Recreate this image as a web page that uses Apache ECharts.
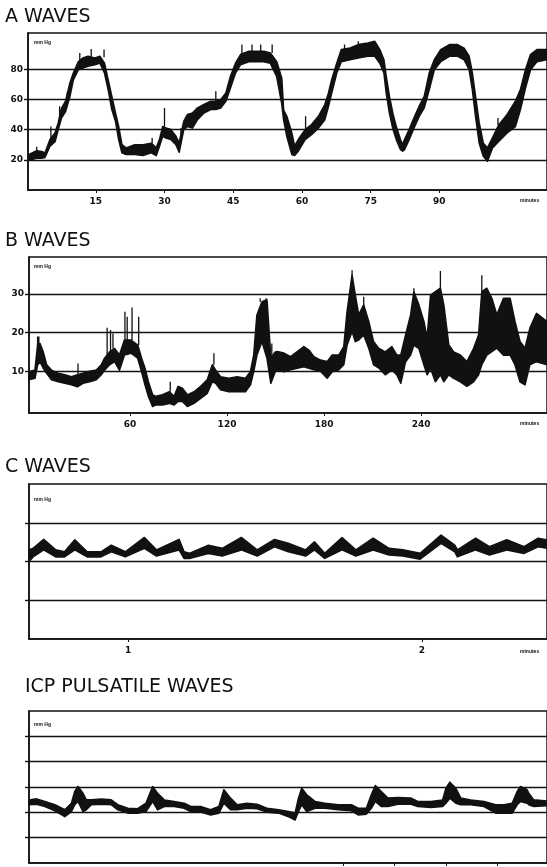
<!DOCTYPE html>
<html>
<head>
<meta charset="utf-8">
<title>ICP waves</title>
<script src="https://cdn.jsdelivr.net/npm/echarts@6/dist/echarts.min.js"></script>
<style>
html, body { margin: 0; padding: 0; background: #fff; }
#main { width: 547px; height: 867px; }
</style>
</head>
<body>
<div id="main"></div>
<script>
var ink = '#111';

// A waves (minutes / mm Hg): lower and upper edge of the trace
var aTime = [0.45,2.1,3.2,3.9,5.0,6.1,6.8,7.5,8.4,9.35,10.1,11.2,12.2,13.3,14.8,15.9,16.9,17.7,18.5,19.3,20.0,20.7,21.6,23.5,25.3,27.1,28.2,28.9,29.6,30.3,31.4,32.5,33.2,34.2,35.0,36.1,37.2,38.6,40.1,41.2,42.3,43.4,44.4,45.5,46.6,48.4,50.2,51.7,53.1,54.5,55.6,56.0,56.7,57.8,58.4,59.2,60.7,62.1,63.6,65.0,65.8,66.5,67.6,68.6,70.5,72.3,74.4,75.9,77.0,77.9,78.4,79.1,79.9,80.6,81.5,82.0,82.4,83.4,84.6,85.6,86.7,87.8,88.9,90.3,92.2,94.0,95.4,96.5,97.2,97.9,98.7,99.6,100.5,101.6,103.0,104.8,106.6,107.7,108.8,109.9,111.3,113.5];
var aLow = [19.7,21,21,21.5,29,32,40,47.7,52,62,73,79.7,80.8,82,83,84.1,77.5,66.5,53.3,45.5,33.4,24.6,23.5,23.5,22.8,24.6,22.8,29,35.6,34.5,33.4,30,25,40,42,41,46.6,51,53.3,53.3,54.4,58.8,67.6,77.5,83,85,85,85,84,75,57,46.6,35.6,23.5,22.8,25.7,33.4,36.7,41,46.6,55.5,64.3,77.5,85,86.3,87.5,88.6,88.6,84,77.5,64.3,51,40,33.4,26.8,25.7,26.8,33.4,42,48.8,54.4,66.5,79.7,85,88.6,88.6,86.3,79.7,66.5,48.8,31,22.4,19,27.9,32.3,37.8,42,53.3,67.6,79.7,85,86.3];
var aHigh = [23.5,26,25.5,24.5,33.4,37.8,44.4,54,58.8,70.9,77.5,85,87.5,88.6,87.5,88.6,84,73,62,51,42,30,27.9,30,30,31,27.9,33.4,42,41,40,35.6,31,45.5,50,51,54.4,56.6,58.8,58.8,60,64.3,75.3,84,89.7,91.9,91.9,91.9,90.8,85,74,53,48.8,37.8,29,33.4,40,43.3,48.8,56.6,64.3,73,84,93,94,96.3,97.4,98.5,93,86.3,75.3,62,50,42,33.4,30,33.4,40,48.8,55.5,62,77.5,86.3,93,96.3,96.3,94,88.6,77.5,62,44.4,31,27.9,34.5,43.3,50,58.8,66.5,79.7,89.7,93,93];
var aSpikeTime = [2.1,5.2,7.1,8.8,11.5,14.0,16.8,27.3,30.0,33.6,41.2,46.9,49.1,51.0,53.5,60.8,69.3,72.3,102.8];
var aSpikeBase = [25,33,44,58,84,88,88,31,41,31,58.8,90,91,91,90.8,40,93,96,43];
var aSpikeTop = [28.6,42,55.5,65,90.8,93.4,93,34.5,54.4,41,65.4,96.3,96.3,96.3,96.3,48.8,96.3,98.5,47.7];
var aTicks = [15,30,45,60,75,90];
var aLevels = [20,40,60,80];

// B waves
var bTime = [-2.4,1.3,2.9,4.4,6.4,8.5,11.5,15.6,19.7,23.8,27.5,31.0,35.1,39.2,42.3,44.3,47.4,50.5,53.5,56.6,60.7,64.8,67.2,69.3,71.4,74.0,76.1,80.1,84.3,87.3,89.8,92.4,95.5,99.6,103.7,107.8,110.9,113.0,116.0,121.1,126.2,131.4,134.5,136.5,138.5,141.6,144.7,147.1,149.8,151.0,155.2,159.3,163.4,167.5,170.6,173.7,177.8,181.9,185.0,189.1,192.2,194.2,197.3,199.3,201.4,204.5,207.6,210.6,213.7,217.8,221.9,225.0,227.4,230.4,233.5,235.5,238.6,241.7,243.7,245.8,248.8,251.9,254.0,257.1,260.1,264.2,268.3,272.4,275.5,277.5,280.6,283.7,286.8,290.9,295.0,298.0,301.1,304.2,307.2,311.3,317.8];
var bLow = [7.8,8.2,11.6,12.5,10.8,9.5,7.8,7.3,6.9,6.5,6.0,6.9,7.3,7.8,9.1,10.3,11.7,12.5,10.3,14.2,14.7,13.4,9.9,6.5,3.5,0.9,1.3,1.3,1.7,1.3,2.2,2.2,0.9,1.7,3.0,4.3,7.3,6.9,5.2,4.7,4.7,4.7,6.5,9.9,14.2,17.7,13.4,6.9,9.9,10.4,9.9,10.4,10.8,11.2,10.8,10.4,10.0,8.2,9.9,10.4,11.7,16.8,20.3,17.7,18.1,19.4,16.0,11.7,10.9,9.1,10.4,9.05,6.9,12.5,14.2,16.8,15.9,11.7,9.1,10.8,7.3,9.1,7.3,9.1,8.2,7.3,6.1,7.3,9.1,11.7,14.2,15.1,16.0,14.2,14.2,11.7,7.3,6.5,11.7,12.5,11.7];
var bHigh = [9.9,10.3,16.8,17.2,15.0,11.7,10.3,9.5,9.1,8.6,9.1,9.5,10.0,10.3,11.7,13.4,15.0,15.9,14.2,18.1,18.1,16.8,13.4,10.8,7.3,3.9,3.5,3.9,4.7,3.5,6.1,5.6,3.9,4.7,6.1,7.8,11.7,10.3,8.6,8.2,8.6,8.2,9.9,14.2,24.6,28.0,28.5,13.4,15.0,15.1,14.7,13.8,15.1,16.4,15.5,13.8,12.9,12.5,14.2,14.2,16.4,25.4,34.9,29.7,24.6,27.2,22.9,17.7,16.0,15.0,16.4,14.2,14.2,19.4,24.6,30.6,27.2,22.9,18.5,29.7,30.6,31.5,27.2,16.8,15.0,14.2,12.5,15.9,19.4,30.6,31.5,28.9,24.6,28.9,28.9,22.9,17.7,16.0,21.1,25.0,22.9];
var bSpikeTime = [2.9,3.7,27.9,45.9,48.0,49.5,56.9,58.3,61.3,65.4,84.9,111.9,140.5,144.2,147.7,197.3,204.5,235.5,251.9,277.5];
var bSpikeBase = [16.8,17,9.1,13.4,15,15.9,18.1,18.1,18.1,16.8,4.7,11.7,28,28.5,13.4,34.9,27.2,30.6,31.5,30.6];
var bSpikeTop = [19,19,12,21.3,20.7,19.8,25.4,24.1,26.5,24.1,7.3,14.7,28.9,28.9,17.2,36.2,29.3,31.5,36,34.9];
var bTicks = [60,120,180,240];
var bLevels = [10,20,30];

// C waves
var cTime = [0.662,0.676,0.712,0.753,0.783,0.818,0.860,0.907,0.942,0.990,1.055,1.096,1.173,1.190,1.208,1.273,1.320,1.385,1.439,1.498,1.545,1.604,1.634,1.669,1.728,1.775,1.834,1.888,1.935,1.994,2.065,2.112,2.121,2.183,2.230,2.289,2.348,2.396,2.426];
var cLow = [2.00,2.12,2.30,2.12,2.12,2.30,2.12,2.12,2.25,2.12,2.34,2.14,2.30,2.08,2.08,2.21,2.14,2.30,2.14,2.38,2.25,2.14,2.30,2.08,2.30,2.14,2.30,2.17,2.14,2.06,2.47,2.25,2.12,2.30,2.17,2.30,2.21,2.38,2.34];
var cHigh = [2.30,2.34,2.57,2.30,2.25,2.56,2.25,2.25,2.42,2.25,2.62,2.30,2.57,2.25,2.21,2.42,2.34,2.62,2.30,2.57,2.47,2.30,2.51,2.21,2.62,2.30,2.60,2.34,2.30,2.21,2.68,2.42,2.30,2.60,2.38,2.56,2.38,2.60,2.55];
var cTicks = [1,2];
var cLevels = [1,2,3];

// ICP pulsatile waves
var dTime = [-0.1,0.048,0.209,0.402,0.595,0.724,0.788,0.852,0.949,1.013,1.110,1.303,1.496,1.625,1.818,2.011,2.172,2.300,2.397,2.526,2.719,2.912,3.040,3.233,3.426,3.587,3.684,3.813,3.941,4.134,4.327,4.520,4.746,4.939,5.067,5.132,5.196,5.293,5.453,5.647,5.904,6.161,6.290,6.451,6.547,6.625,6.740,6.869,7.062,7.320,7.448,7.706,7.931,7.995,8.072,8.188,8.285,8.478,8.735,8.961,9.121,9.282,9.379,9.443,9.572,9.604,9.701,9.958];
var dLow = [2.30,2.32,2.23,2.06,1.83,2.03,2.30,2.43,2.03,2.10,2.30,2.32,2.30,2.10,1.97,1.97,2.03,2.43,2.10,2.23,2.23,2.16,2.03,2.01,1.90,1.97,2.36,2.10,2.10,2.16,2.14,2.01,1.97,1.83,1.70,2.03,2.30,2.03,2.16,2.16,2.10,2.06,1.90,1.93,2.16,2.43,2.23,2.23,2.32,2.32,2.23,2.19,2.23,2.36,2.56,2.36,2.30,2.30,2.23,1.97,1.97,1.97,2.30,2.43,2.36,2.30,2.23,2.26];
var dHigh = [2.49,2.53,2.43,2.30,2.10,2.36,2.82,3.02,2.75,2.49,2.49,2.52,2.49,2.30,2.16,2.14,2.36,3.02,2.75,2.49,2.43,2.36,2.23,2.23,2.10,2.23,2.89,2.56,2.30,2.36,2.32,2.16,2.10,2.03,1.97,2.56,2.95,2.69,2.43,2.36,2.30,2.30,2.16,2.16,2.69,3.06,2.82,2.56,2.58,2.56,2.43,2.43,2.49,2.95,3.19,2.95,2.56,2.49,2.43,2.30,2.30,2.36,2.82,3.02,2.89,2.75,2.49,2.45];
var dTicks = [6,7,8,9];
var dLevels = [1,2,3,4,5];

var titles = ['A WAVES', 'B WAVES', 'C WAVES', 'ICP PULSATILE WAVES'];

// the trace is a filled band: along the upper edge, back along the lower edge
function waveSeries(idx, time, low, high, levels) {
    return {
        type: 'custom', coordinateSystem: 'cartesian2d',
        xAxisIndex: idx, yAxisIndex: idx, silent: true,
        data: [[time[0], low[0]]],
        renderItem: function (params, api) {
            var pts = [];
            for (var i = 0; i < time.length; i++) pts.push(api.coord([time[i], high[i]]));
            for (var j = time.length - 1; j >= 0; j--) pts.push(api.coord([time[j], low[j]]));
            return {
                type: 'polygon', shape: { points: pts },
                style: { fill: ink, stroke: ink, lineWidth: 1.6, lineJoin: 'round' }
            };
        },
        markLine: {
            silent: true, symbol: 'none', label: { show: false },
            lineStyle: { color: ink, width: 1.4, type: 'solid' },
            data: levels.map(function (v) { return { yAxis: v }; })
        }
    };
}

function spikeSeries(idx, time, base, top) {
    var d = [];
    for (var i = 0; i < time.length; i++) {
        d.push([time[i], base[i]], [time[i], top[i]], [time[i], '-']);
    }
    return {
        type: 'line', xAxisIndex: idx, yAxisIndex: idx, data: d,
        symbol: 'none', silent: true, connectNulls: false,
        lineStyle: { color: ink, width: 1.3 }
    };
}

function xAxis(idx, min, max, ticks, showLabel) {
    return {
        gridIndex: idx, type: 'value', min: min, max: max,
        axisLine: { show: true, onZero: false, lineStyle: { color: ink, width: 1.5 } },
        axisTick: { show: true, customValues: ticks, length: 3, lineStyle: { color: ink } },
        axisLabel: { show: showLabel, customValues: ticks, color: ink, fontSize: 9, fontWeight: 'bold', fontFamily: 'DejaVu Sans', margin: 7 },
        splitLine: { show: false }
    };
}

function yAxis(idx, min, max, levels, showLabel) {
    return {
        gridIndex: idx, type: 'value', min: min, max: max,
        axisLine: { show: true, onZero: false, lineStyle: { color: ink, width: 1.5 } },
        axisTick: { show: true, customValues: levels, length: 4, lineStyle: { color: ink, width: 1.4 } },
        axisLabel: { show: showLabel, customValues: levels, color: ink, fontSize: 9, fontWeight: 'bold', fontFamily: 'DejaVu Sans', margin: 5 },
        splitLine: { show: false }
    };
}

var gridBox = { show: true, borderColor: ink, borderWidth: 1.5, right: -3 };

var chart = echarts.init(document.getElementById('main'));
var option = {
    animation: false,
    backgroundColor: '#fff',
    title: [
        { text: titles[0], left: 5, top: 8 },
        { text: titles[1], left: 5, top: 232 },
        { text: titles[2], left: 5, top: 458 },
        { text: titles[3], left: 25, top: 678 }
    ].map(function (t) {
        t.textStyle = { color: ink, fontSize: 19, fontWeight: 'normal', fontFamily: 'DejaVu Sans' };
        t.padding = 0;
        return t;
    }),
    grid: [
        Object.assign({ left: 28, top: 33, height: 157 }, gridBox),
        Object.assign({ left: 29, top: 257, height: 156 }, gridBox),
        Object.assign({ left: 29, top: 484, height: 155 }, gridBox),
        Object.assign({ left: 29, top: 711, height: 152 }, gridBox)
    ],
    xAxis: [
        xAxis(0, 0.2, 113.5, aTicks, true),
        xAxis(1, -2.4, 317.8, bTicks, true),
        xAxis(2, 0.662, 2.426, cTicks, true),
        xAxis(3, -0.1, 9.958, dTicks, false)
    ],
    yAxis: [
        yAxis(0, 0, 104, aLevels, true),
        yAxis(1, -0.8, 39.6, bLevels, true),
        yAxis(2, 0, 4, cLevels, false),
        yAxis(3, 0, 6, dLevels, false)
    ],
    graphic: [
        { type: 'text', x: 34, y: 40, style: { text: 'mm Hg', fontSize: 5, fontWeight: 'bold', fill: ink } },
        { type: 'text', x: 34, y: 264, style: { text: 'mm Hg', fontSize: 5, fontWeight: 'bold', fill: ink } },
        { type: 'text', x: 34, y: 497, style: { text: 'mm Hg', fontSize: 5, fontWeight: 'bold', fill: ink } },
        { type: 'text', x: 34, y: 722, style: { text: 'mm Hg', fontSize: 5, fontWeight: 'bold', fill: ink } },
        { type: 'text', x: 520, y: 198, style: { text: 'minutes', fontSize: 5, fontWeight: 'bold', fill: ink } },
        { type: 'text', x: 520, y: 421, style: { text: 'minutes', fontSize: 5, fontWeight: 'bold', fill: ink } },
        { type: 'text', x: 520, y: 649, style: { text: 'minutes', fontSize: 5, fontWeight: 'bold', fill: ink } }
    ],
    series: [
        waveSeries(0, aTime, aLow, aHigh, aLevels),
        spikeSeries(0, aSpikeTime, aSpikeBase, aSpikeTop),
        waveSeries(1, bTime, bLow, bHigh, bLevels),
        spikeSeries(1, bSpikeTime, bSpikeBase, bSpikeTop),
        waveSeries(2, cTime, cLow, cHigh, cLevels),
        waveSeries(3, dTime, dLow, dHigh, dLevels)
    ]
};
chart.setOption(option);
</script>
</body>
</html>
